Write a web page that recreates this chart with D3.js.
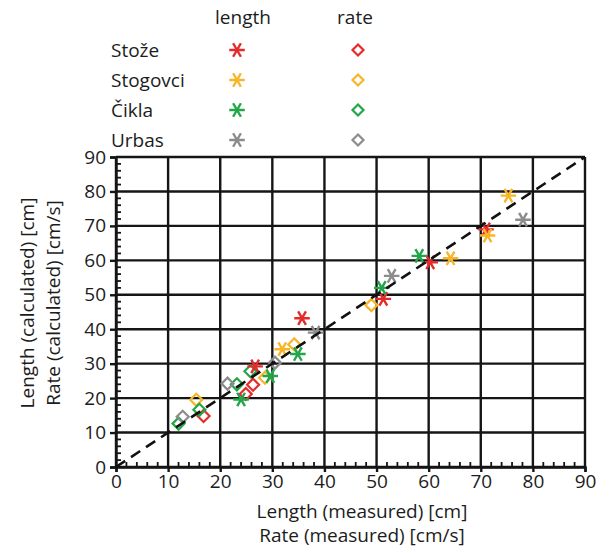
<!DOCTYPE html>
<html><head><meta charset="utf-8">
<script src="https://cdn.jsdelivr.net/npm/d3@7"></script>
<style>html,body{margin:0;padding:0;background:#fff;}svg{display:block;font-family:"Open Sans",sans-serif;}</style>
</head><body>
<svg id="c" width="612" height="553"></svg>
<script>
// ---- data ----
const sites = ["Stože", "Stogovci", "Čikla", "Urbas"];
const siteColors = ["#e52a2c", "#f7b52a", "#22a64a", "#8c8c8c"];
const seriesTypes = ["length", "rate"];
// [measured, calculated]
const stozeLength = [[26.7,29.2],[35.7,43.2],[51.3,48.8],[60.3,59.4],[71.0,69.0]];
const stozeRate = [[16.8,14.8],[24.9,21.2],[26.3,23.9]];
const stogovciLength = [[31.9,34.2],[64.2,60.6],[71.3,67.2],[75.3,78.8]];
const stogovciRate = [[15.4,19.5],[28.6,25.9],[34.2,35.6],[49.0,47.0]];
const ciklaLength = [[24.0,19.6],[29.6,26.4],[34.9,32.8],[51.0,52.0],[58.2,61.3]];
const ciklaRate = [[12.0,12.6],[16.0,16.6],[23.2,24.0],[25.8,27.8]];
const urbasLength = [[38.3,39.0],[52.9,55.5],[78.1,71.8]];
const urbasRate = [[12.8,14.6],[21.4,24.2],[30.5,30.3]];
const xTicks = [0,10,20,30,40,50,60,70,80,90];
const yTicks = [0,10,20,30,40,50,60,70,80,90];
const xTitle = ["Length (measured) [cm]", "Rate (measured) [cm/s]"];
const yTitle = ["Length (calculated) [cm]", "Rate (calculated) [cm/s]"];

const lengthData = [stozeLength, stogovciLength, ciklaLength, urbasLength];
const rateData = [stozeRate, stogovciRate, ciklaRate, urbasRate];

// ---- chart ----
const svg = d3.select("#c");
const x = d3.scaleLinear().domain([0,90]).range([116,585]);
const y = d3.scaleLinear().domain([0,90]).range([467,157]);
const ink = "#151515";
const txt = "#1c1c1c";
const fs = "19px";

// grid
const g = svg.append("g");
g.selectAll(".vx").data(xTicks).join("line")
  .attr("x1", d=>x(d)).attr("x2", d=>x(d)).attr("y1", y(0)).attr("y2", y(90))
  .attr("stroke", ink).attr("stroke-width", 2.4);
g.selectAll(".hy").data(yTicks).join("line")
  .attr("y1", d=>y(d)).attr("y2", d=>y(d)).attr("x1", x(0)).attr("x2", x(90))
  .attr("stroke", ink).attr("stroke-width", 2.4);

// axes
const xAxis = d3.axisBottom(x).tickValues(xTicks).tickSize(5).tickPadding(3).tickFormat(d3.format("d"));
const xa = svg.append("g").attr("transform", `translate(0,${y(0)})`).call(xAxis);
const yAxis = d3.axisLeft(y).tickValues(yTicks).tickSize(6).tickPadding(4).tickFormat(d3.format("d"));
const ya = svg.append("g").attr("transform", `translate(${x(0)},0)`).call(yAxis);
[xa, ya].forEach(a => {
  a.select(".domain").attr("stroke", ink).attr("stroke-width", 2.4);
  a.selectAll(".tick line").attr("stroke", ink).attr("stroke-width", 2.4);
  a.selectAll("text").attr("fill", txt).style("font-size", fs).style("font-family", "'Open Sans',sans-serif");
});
// minor ticks (inside)
const minor = d3.range(0, 91, 2).filter(v => v % 10 !== 0);
svg.append("g").selectAll("line").data(minor).join("line")
  .attr("x1", d=>x(d)).attr("x2", d=>x(d)).attr("y1", y(0)).attr("y2", y(0)-5)
  .attr("stroke", ink).attr("stroke-width", 1.8);
svg.append("g").selectAll("line").data(minor).join("line")
  .attr("y1", d=>y(d)).attr("y2", d=>y(d)).attr("x1", x(0)).attr("x2", x(0)+5)
  .attr("stroke", ink).attr("stroke-width", 1.8);

// titles
xTitle.forEach((t,i) => svg.append("text").attr("x", 362).attr("y", 518 + i*24)
  .attr("text-anchor", "middle").attr("fill", txt).style("font-size", fs).text(t));
yTitle.forEach((t,i) => svg.append("text")
  .attr("transform", `translate(${34 + i*26},${303}) rotate(-90)`)
  .attr("text-anchor", "middle").attr("fill", txt).style("font-size", fs).text(t));

// markers
const ast = d3.symbol().type(d3.symbolAsterisk).size(170);
const dia = (cx, cy, r) => `M${cx},${cy-r}L${cx+r},${cy}L${cx},${cy+r}L${cx-r},${cy}Z`;
const pts = svg.append("g");
rateData.forEach((arr, i) => {
  pts.append("g").selectAll("path").data(arr).join("path")
    .attr("d", d => dia(x(d[0]), y(d[1]), 6))
    .attr("fill", "none").attr("stroke", siteColors[i]).attr("stroke-width", 2.2);
});
lengthData.forEach((arr, i) => {
  pts.append("g").selectAll("path").data(arr).join("path")
    .attr("d", ast).attr("transform", d => `translate(${x(d[0])},${y(d[1])}) rotate(90)`)
    .attr("fill", "none").attr("stroke", siteColors[i]).attr("stroke-width", 2.4);
});

// 1:1 line
svg.append("line").attr("x1", x(0)).attr("y1", y(0)).attr("x2", x(90)).attr("y2", y(90))
  .attr("stroke", "#111").attr("stroke-width", 2.6).attr("stroke-dasharray", "11,7");

// legend
const lg = svg.append("g");
const headX = [243, 355];
seriesTypes.forEach((t,i) => lg.append("text").attr("x", headX[i]).attr("y", 24)
  .attr("text-anchor", "middle").attr("fill", txt).style("font-size", fs).text(t));
sites.forEach((s,i) => {
  const cy = 50 + i*30;
  lg.append("text").attr("x", 111).attr("y", cy + 7).attr("fill", txt).style("font-size", fs).text(s);
  lg.append("path").attr("d", ast).attr("transform", `translate(237,${cy}) rotate(90)`)
    .attr("fill", "none").attr("stroke", siteColors[i]).attr("stroke-width", 2.4);
  lg.append("path").attr("d", dia(358, cy, 5.5)).attr("fill", "none")
    .attr("stroke", siteColors[i]).attr("stroke-width", 2.2);
});
</script>
</body></html>
